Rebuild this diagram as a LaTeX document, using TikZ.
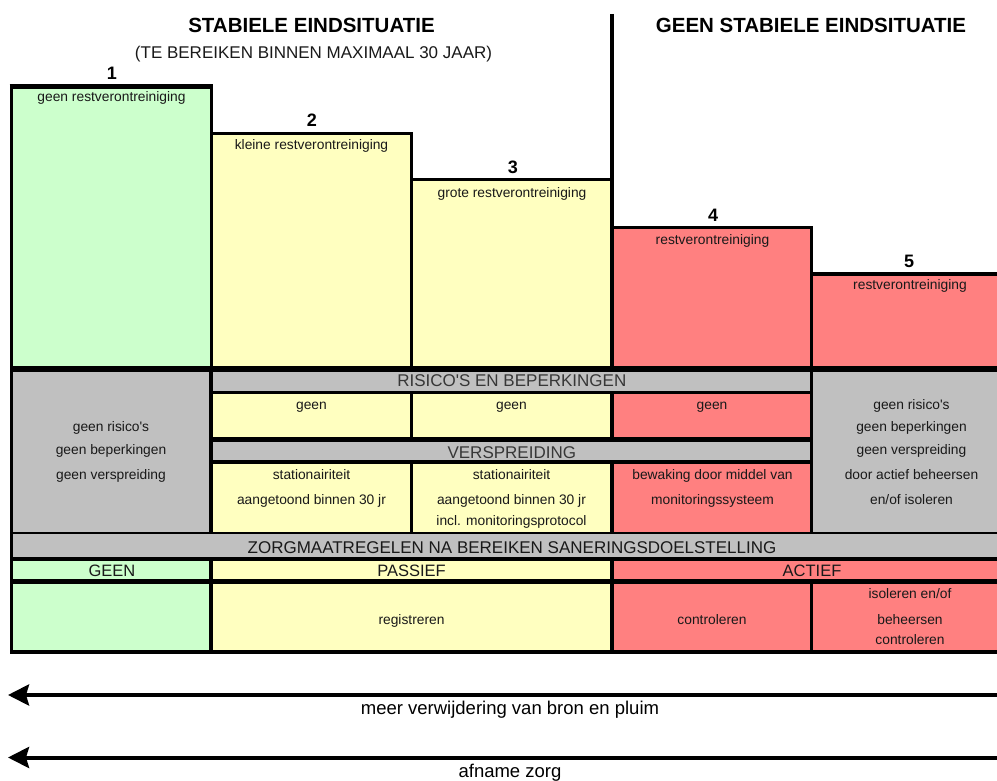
\documentclass[tikz,border=0pt]{standalone}
\usepackage{fontspec}
\setmainfont{Liberation Sans}
\usetikzlibrary{arrows.meta}
\definecolor{cgreen}{RGB}{204,255,204}
\definecolor{cyellow}{RGB}{255,255,192}
\definecolor{cred}{RGB}{255,128,128}
\definecolor{cgray}{RGB}{192,192,192}
\definecolor{ctxt}{RGB}{25,25,25}
\definecolor{cbar}{RGB}{55,55,55}
\newcommand\fsz[1]{\fontsize{#1}{#1}\selectfont}
\begin{document}
\begin{tikzpicture}[x=1pt,y=-1pt,
  lbl/.style={anchor=base,inner sep=0pt,text=ctxt,font=\fsz{13.8}},
  hdr/.style={anchor=base,inner sep=0pt,text=black,font=\bfseries\fsz{20.5}},
  subhdr/.style={anchor=base,inner sep=0pt,text=ctxt,font=\fsz{17}},
  numlbl/.style={anchor=base,inner sep=0pt,text=black,font=\bfseries\fsz{18}},
  barlbl/.style={anchor=base,inner sep=0pt,text=cbar,font=\fsz{17}},
  catlbl/.style={anchor=base,inner sep=0pt,text=ctxt,font=\fsz{16.5}},
  arrlbl/.style={anchor=base,inner sep=0pt,text=black,font=\fsz{18.5}},
  topbox/.style={draw=black,line width=3.5pt},
  bigarrow/.style={line width=4pt,-{Stealth[length=21pt,width=21pt,inset=3pt]}}
]
\useasboundingbox (0,0) rectangle (997,781);
\clip (0,0) rectangle (997,781);

% headers
\node[hdr] (h1) at (311.5,33) {STABIELE EINDSITUATIE};
\node[subhdr] (h1s) at (313.5,58.5) {(TE BEREIKEN BINNEN MAXIMAAL 30 JAAR)};
\node[hdr] (h2) at (811,33) {GEEN STABIELE EINDSITUATIE};

% top boxes
\filldraw[topbox,fill=cgreen] (11.3,86.5) rectangle (211.4,368);
\draw[line width=5pt] (9.5,86.5) -- (213.2,86.5);
\filldraw[topbox,fill=cyellow] (211.4,133.5) rectangle (411.5,368);
\filldraw[topbox,fill=cyellow] (411.5,179.5) rectangle (612,368);
\filldraw[topbox,fill=cred] (612,227.5) rectangle (811.7,368);
\filldraw[topbox,fill=cred] (811.7,274) rectangle (1014,368);
\coordinate (divtop) at (612,14);
\coordinate (divbot) at (612,181);
\draw[line width=4pt] (divtop) -- (divbot);

\node[numlbl] (n1) at (112,80) {1};
\node[numlbl] (n2) at (312,127) {2};
\node[numlbl] (n3) at (513,174) {3};
\node[numlbl] (n4) at (713,222) {4};
\node[numlbl] (n5) at (909,267) {5};

\node[lbl] (t1) at (111.5,102) {geen restverontreiniging};
\node[lbl] (t2) at (311.5,149.5) {kleine restverontreiniging};
\node[lbl] (t3) at (512,197) {grote restverontreiniging};
\node[lbl] (t4) at (712.5,244.5) {restverontreiniging};
\node[lbl] (t5) at (910,289) {restverontreiniging};

% lower table background
\fill[black] (10,366) rectangle (1014,653.8);

% middle section cells
\fill[cgray] (12.7,371.7) rectangle (209.4,531.5);
\fill[cgray] (213.3,371.7) rectangle (810.2,390.5);
\fill[cyellow] (213.3,393.5) rectangle (409.8,436.5);
\fill[cyellow] (413.3,393.5) rectangle (609.5,436.5);
\fill[cred] (614.3,393.5) rectangle (810.2,436.5);
\fill[cgray] (213.3,442) rectangle (810.2,460);
\fill[cyellow] (213.3,463.7) rectangle (409.8,531.5);
\fill[cyellow] (413.3,463.7) rectangle (609.5,531.5);
\fill[cred] (614.3,463.7) rectangle (810.2,531.5);
\fill[cgray] (813.3,371.7) rectangle (1014,531.5);

% bottom section cells
\fill[cgray] (12.7,534.3) rectangle (1014,556.8);
\fill[cgreen] (12.7,560.6) rectangle (209.4,579.4);
\fill[cyellow] (213.3,560.6) rectangle (609.5,579.4);
\fill[cred] (614.3,560.6) rectangle (1014,579.4);
\fill[cgreen] (12.7,584) rectangle (209.4,650);
\fill[cyellow] (213.3,584) rectangle (609.5,650);
\fill[cred] (614.3,584) rectangle (810.2,650);
\fill[cred] (813.3,584) rectangle (1014,650);

% middle texts
\node[lbl] (lg1) at (111,431.7) {geen risico\textquotesingle s};
\node[lbl] (lg2) at (111,454.3) {geen beperkingen};
\node[lbl] (lg3) at (111,479) {geen verspreiding};

\node[barlbl] (rb) at (511.8,386.3) {RISICO\textquotesingle S EN BEPERKINGEN};
\node[lbl] (g1) at (311.5,409) {geen};
\node[lbl] (g2) at (511.5,409) {geen};
\node[lbl] (g3) at (712,409) {geen};
\node[barlbl] (vb) at (511.8,458.2) {VERSPREIDING};
\node[lbl] (s1a) at (311.5,479) {stationairiteit};
\node[lbl] (s1b) at (311.5,504) {aangetoond binnen 30 jr};
\node[lbl] (s2a) at (511.5,479) {stationairiteit};
\node[lbl] (s2b) at (511.5,504) {aangetoond binnen 30 jr};
\node[lbl] (s2c) at (511.5,525.7) {incl. monitoringsprotocol};
\node[lbl] (s3a) at (712.5,479) {bewaking door middel van};
\node[lbl] (s3b) at (712.5,504) {monitoringssysteem};

\node[lbl] (rg1) at (911.5,409) {geen risico\textquotesingle s};
\node[lbl] (rg2) at (911.5,431.7) {geen beperkingen};
\node[lbl] (rg3) at (911.5,454.3) {geen verspreiding};
\node[lbl] (rg4) at (911.5,479) {door actief beheersen};
\node[lbl] (rg5) at (911.5,504) {en/of isoleren};

% bottom texts
\node[barlbl,text=ctxt] (zb) at (512,553.2) {ZORGMAATREGELEN NA BEREIKEN SANERINGSDOELSTELLING};
\node[catlbl] (c1) at (112,576) {GEEN};
\node[catlbl] (c2) at (411.5,576) {PASSIEF};
\node[catlbl] (c3) at (812,576) {ACTIEF};
\node[lbl] (reg) at (411.5,624) {registreren};
\node[lbl] (ctl) at (712,624) {controleren};
\node[lbl] (is1) at (910,598) {isoleren en/of};
\node[lbl] (is2) at (910,624) {beheersen};
\node[lbl] (is3) at (910,644.5) {controleren};

% arrows
\coordinate (a1r) at (1010,695);
\coordinate (a1l) at (8,695);
\draw[bigarrow] (a1r) -- (a1l);
\node[arrlbl] (a1t) at (510,714.5) {meer verwijdering van bron en pluim};
\coordinate (a2r) at (1010,757.5);
\coordinate (a2l) at (8,757.5);
\draw[bigarrow] (a2r) -- (a2l);
\node[arrlbl] (a2t) at (510,777) {afname zorg};
\end{tikzpicture}
\end{document}
